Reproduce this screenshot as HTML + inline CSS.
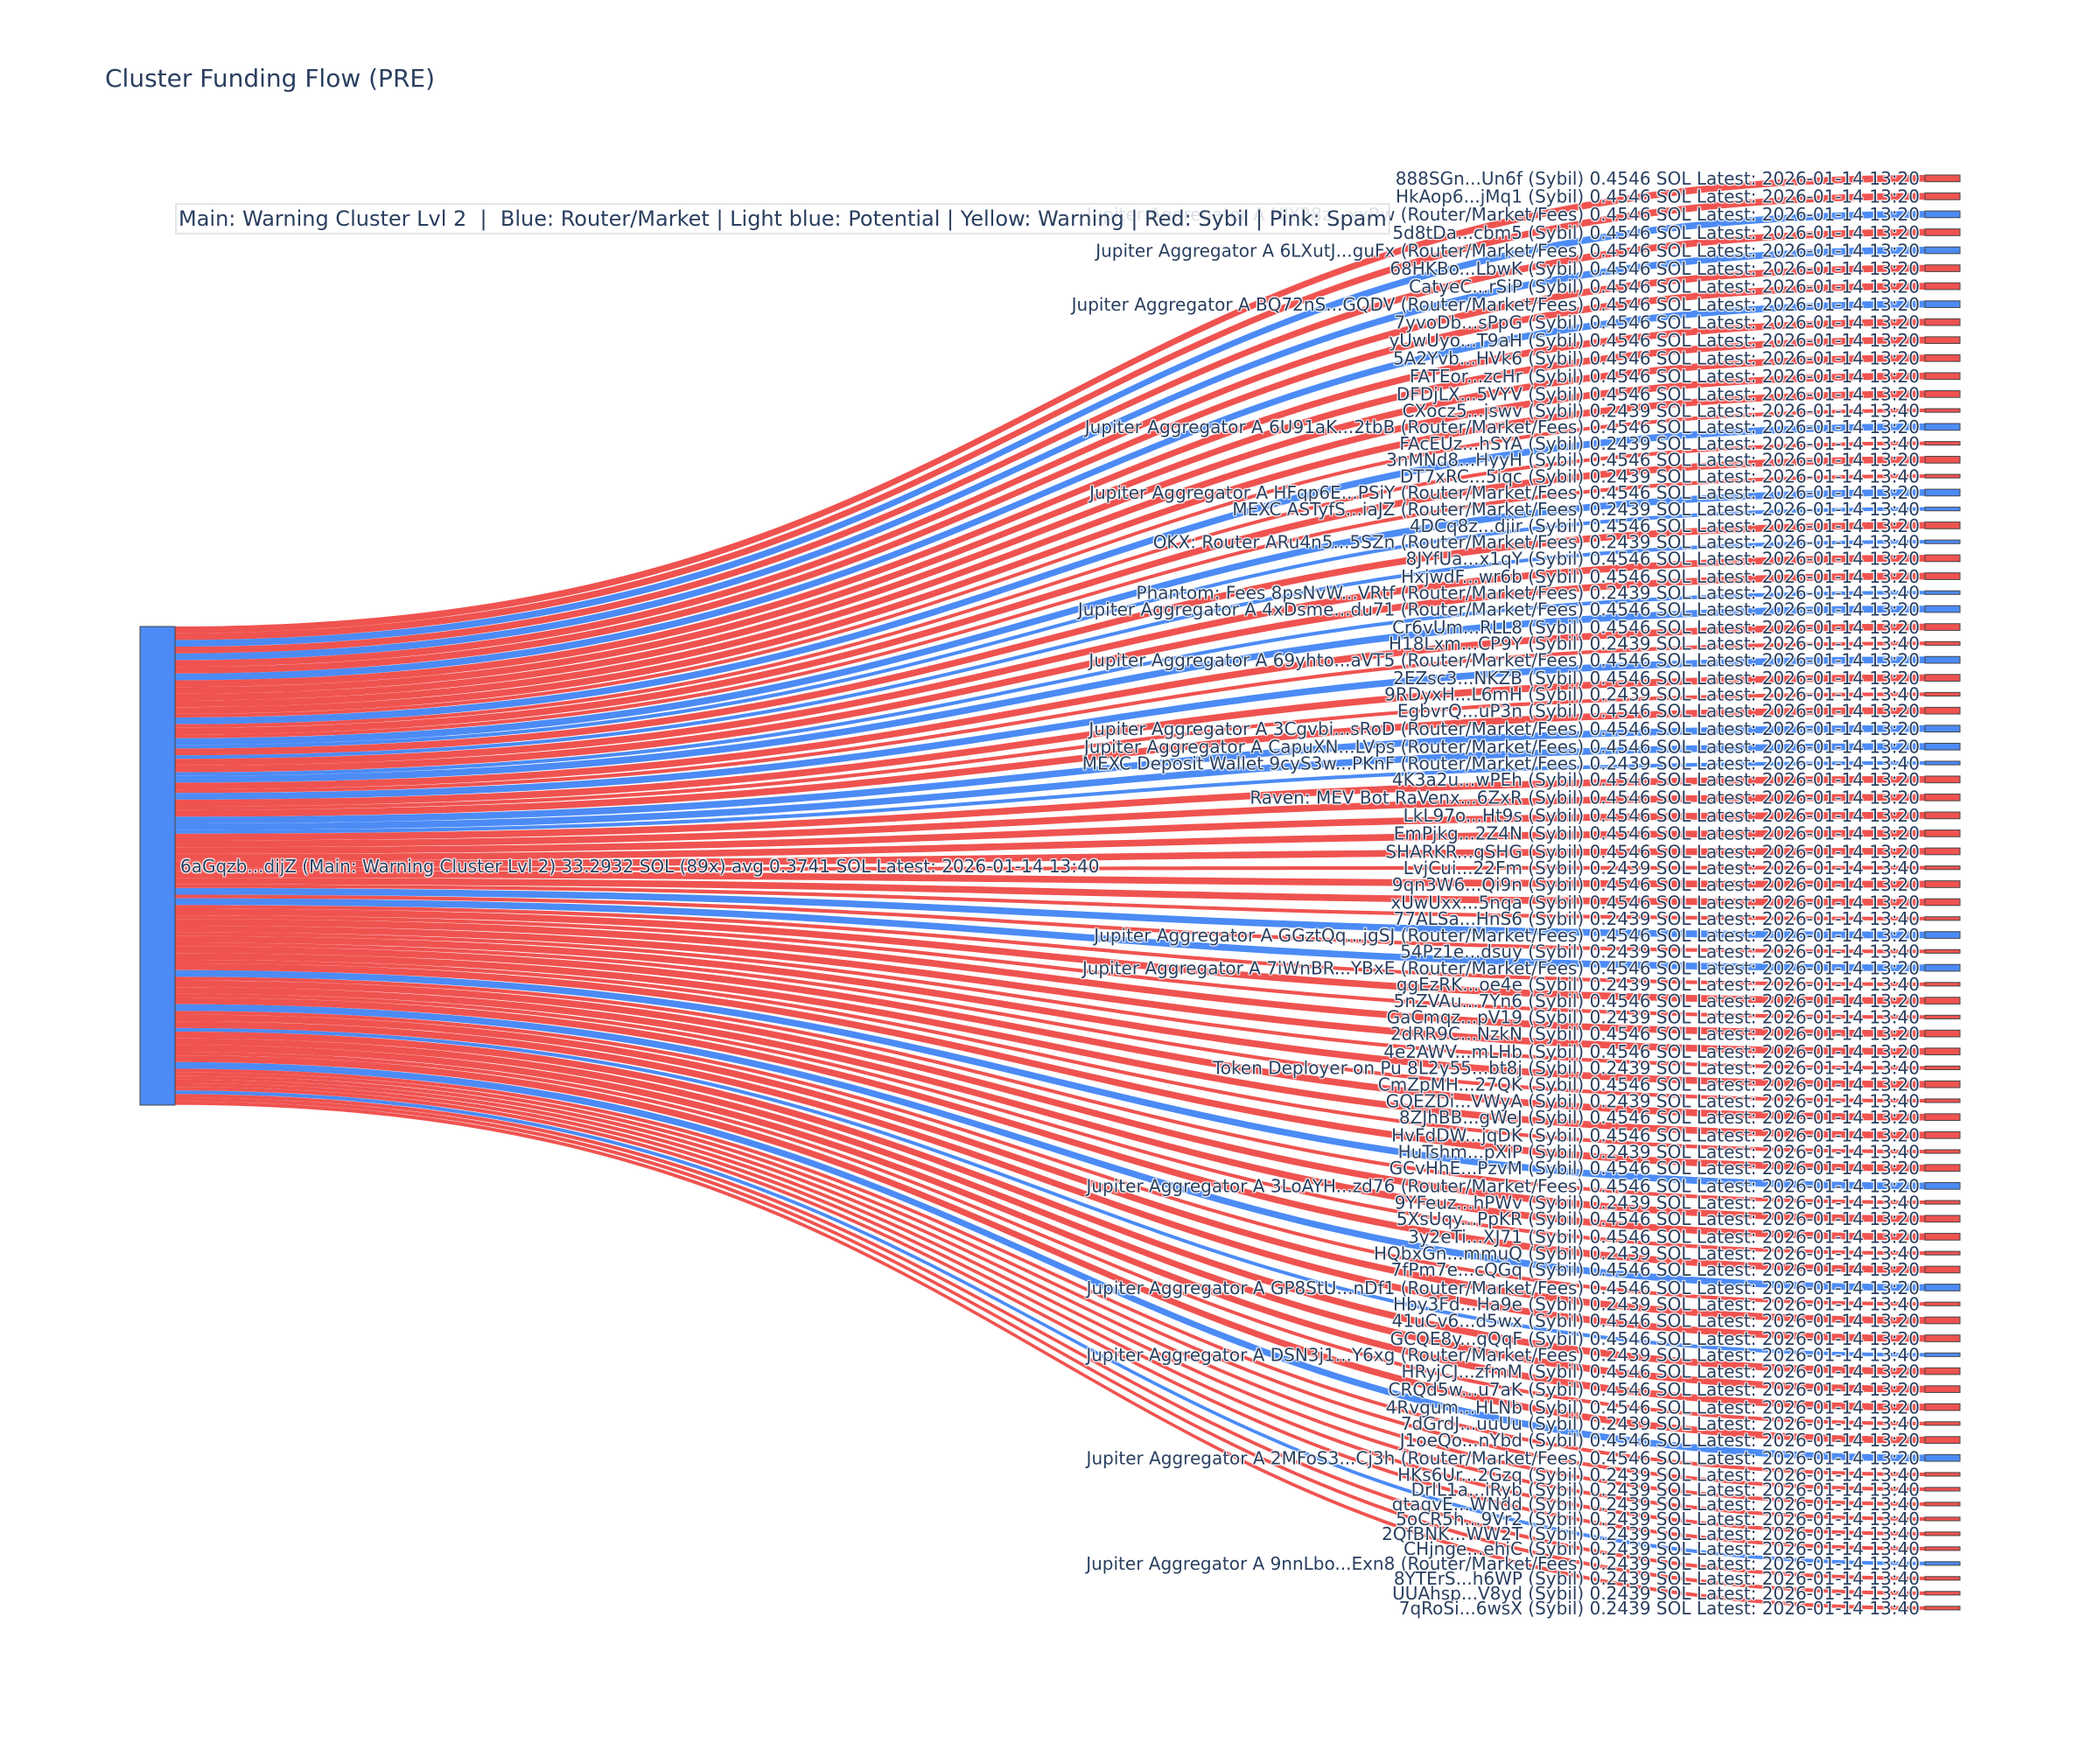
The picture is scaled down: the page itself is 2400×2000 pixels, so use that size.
<!DOCTYPE html>
<html><head><meta charset="utf-8">
<style>
html,body{margin:0;padding:0;background:#fff;}
svg{display:block;font-family:"DejaVu Sans","Liberation Sans",sans-serif;}
.lbl text{font-size:20px;fill:#2a3f5f;text-shadow:1px 1px 1px #fff,1px -1px 1px #fff,-1px 1px 1px #fff,-1px -1px 1px #fff;}
</style></head>
<body>
<svg id="s" xmlns="http://www.w3.org/2000/svg" width="2400" height="2000" viewBox="0 0 2400 2000">
<rect width="2400" height="2000" fill="#fff"/>
<g id="links"></g>
<g id="nodes"><rect x="160" y="716" width="40" height="547" fill="#4C8BF5" stroke="#444" stroke-width="1"/></g>
<g class="lbl" id="rl" text-anchor="end">
<text x="2194">888SGn...Un6f (Sybil) 0.4546 SOL Latest: 2026-01-14 13:20</text>
<text x="2194">HkAop6...jMq1 (Sybil) 0.4546 SOL Latest: 2026-01-14 13:20</text>
<text x="2194">Jupiter Aggregator A HJY28z...xxRw (Router/Market/Fees) 0.4546 SOL Latest: 2026-01-14 13:20</text>
<text x="2194">5d8tDa...cbm5 (Sybil) 0.4546 SOL Latest: 2026-01-14 13:20</text>
<text x="2194">Jupiter Aggregator A 6LXutJ...guFx (Router/Market/Fees) 0.4546 SOL Latest: 2026-01-14 13:20</text>
<text x="2194">68HKBo...LbwK (Sybil) 0.4546 SOL Latest: 2026-01-14 13:20</text>
<text x="2194">CatyeC...rSiP (Sybil) 0.4546 SOL Latest: 2026-01-14 13:20</text>
<text x="2194">Jupiter Aggregator A BQ72nS...GQDV (Router/Market/Fees) 0.4546 SOL Latest: 2026-01-14 13:20</text>
<text x="2194">7yvoDb...sPpG (Sybil) 0.4546 SOL Latest: 2026-01-14 13:20</text>
<text x="2194">yUwUyo...T9aH (Sybil) 0.4546 SOL Latest: 2026-01-14 13:20</text>
<text x="2194">5A2Yvb...HVk6 (Sybil) 0.4546 SOL Latest: 2026-01-14 13:20</text>
<text x="2194">FATEor...zcHr (Sybil) 0.4546 SOL Latest: 2026-01-14 13:20</text>
<text x="2194">DFDjLX...5VYV (Sybil) 0.4546 SOL Latest: 2026-01-14 13:20</text>
<text x="2194">CXocz5...jswv (Sybil) 0.2439 SOL Latest: 2026-01-14 13:40</text>
<text x="2194">Jupiter Aggregator A 6U91aK...2tbB (Router/Market/Fees) 0.4546 SOL Latest: 2026-01-14 13:20</text>
<text x="2194">FAcEUz...hSYA (Sybil) 0.2439 SOL Latest: 2026-01-14 13:40</text>
<text x="2194">3nMNd8...HyyH (Sybil) 0.4546 SOL Latest: 2026-01-14 13:20</text>
<text x="2194">DT7xRC...5iqc (Sybil) 0.2439 SOL Latest: 2026-01-14 13:40</text>
<text x="2194">Jupiter Aggregator A HFqp6E...PSiY (Router/Market/Fees) 0.4546 SOL Latest: 2026-01-14 13:20</text>
<text x="2194">MEXC ASTyfS...iaJZ (Router/Market/Fees) 0.2439 SOL Latest: 2026-01-14 13:40</text>
<text x="2194">4DCq8z...djir (Sybil) 0.4546 SOL Latest: 2026-01-14 13:20</text>
<text x="2194">OKX: Router ARu4n5...5SZn (Router/Market/Fees) 0.2439 SOL Latest: 2026-01-14 13:40</text>
<text x="2194">8JYfUa...x1qY (Sybil) 0.4546 SOL Latest: 2026-01-14 13:20</text>
<text x="2194">HxjwdF...wr6b (Sybil) 0.4546 SOL Latest: 2026-01-14 13:20</text>
<text x="2194">Phantom: Fees 8psNvW...VRtf (Router/Market/Fees) 0.2439 SOL Latest: 2026-01-14 13:40</text>
<text x="2194">Jupiter Aggregator A 4xDsme...du71 (Router/Market/Fees) 0.4546 SOL Latest: 2026-01-14 13:20</text>
<text x="2194">Cr6vUm...RLL8 (Sybil) 0.4546 SOL Latest: 2026-01-14 13:20</text>
<text x="2194">H18Lxm...CP9Y (Sybil) 0.2439 SOL Latest: 2026-01-14 13:40</text>
<text x="2194">Jupiter Aggregator A 69yhto...aVT5 (Router/Market/Fees) 0.4546 SOL Latest: 2026-01-14 13:20</text>
<text x="2194">2EZsc3...NKZB (Sybil) 0.4546 SOL Latest: 2026-01-14 13:20</text>
<text x="2194">9RDyxH...L6mH (Sybil) 0.2439 SOL Latest: 2026-01-14 13:40</text>
<text x="2194">EgbvrQ...uP3n (Sybil) 0.4546 SOL Latest: 2026-01-14 13:20</text>
<text x="2194">Jupiter Aggregator A 3Cgvbi...sRoD (Router/Market/Fees) 0.4546 SOL Latest: 2026-01-14 13:20</text>
<text x="2194">Jupiter Aggregator A CapuXN...LVps (Router/Market/Fees) 0.4546 SOL Latest: 2026-01-14 13:20</text>
<text x="2194">MEXC Deposit Wallet 9cyS3w...PKnF (Router/Market/Fees) 0.2439 SOL Latest: 2026-01-14 13:40</text>
<text x="2194">4K3a2u...wPEh (Sybil) 0.4546 SOL Latest: 2026-01-14 13:20</text>
<text x="2194">Raven: MEV Bot RaVenx...6ZxR (Sybil) 0.4546 SOL Latest: 2026-01-14 13:20</text>
<text x="2194">LkL97o...Ht9s (Sybil) 0.4546 SOL Latest: 2026-01-14 13:20</text>
<text x="2194">EmPjkg...2Z4N (Sybil) 0.4546 SOL Latest: 2026-01-14 13:20</text>
<text x="2194">SHARKR...gSHG (Sybil) 0.4546 SOL Latest: 2026-01-14 13:20</text>
<text x="2194">LvjCui...22Fm (Sybil) 0.2439 SOL Latest: 2026-01-14 13:40</text>
<text x="2194">9qn3W6...Qi9n (Sybil) 0.4546 SOL Latest: 2026-01-14 13:20</text>
<text x="2194">xUwUxx...5nqa (Sybil) 0.4546 SOL Latest: 2026-01-14 13:20</text>
<text x="2194">77ALSa...HnS6 (Sybil) 0.2439 SOL Latest: 2026-01-14 13:40</text>
<text x="2194">Jupiter Aggregator A GGztQq...jgSJ (Router/Market/Fees) 0.4546 SOL Latest: 2026-01-14 13:20</text>
<text x="2194">54Pz1e...dsuy (Sybil) 0.2439 SOL Latest: 2026-01-14 13:40</text>
<text x="2194">Jupiter Aggregator A 7iWnBR...YBxE (Router/Market/Fees) 0.4546 SOL Latest: 2026-01-14 13:20</text>
<text x="2194">ggEzRK...oe4e (Sybil) 0.2439 SOL Latest: 2026-01-14 13:40</text>
<text x="2194">5nZVAu...7Yn6 (Sybil) 0.4546 SOL Latest: 2026-01-14 13:20</text>
<text x="2194">GaCmqz...pV19 (Sybil) 0.2439 SOL Latest: 2026-01-14 13:40</text>
<text x="2194">2dRR9C...NzkN (Sybil) 0.4546 SOL Latest: 2026-01-14 13:20</text>
<text x="2194">4e2AWV...mLHb (Sybil) 0.4546 SOL Latest: 2026-01-14 13:20</text>
<text x="2194">Token Deployer on Pu 8L2y55...bt8j (Sybil) 0.2439 SOL Latest: 2026-01-14 13:40</text>
<text x="2194">CmZpMH...27QK (Sybil) 0.4546 SOL Latest: 2026-01-14 13:20</text>
<text x="2194">GQEZDi...VWyA (Sybil) 0.2439 SOL Latest: 2026-01-14 13:40</text>
<text x="2194">8ZJhBB...gWeJ (Sybil) 0.4546 SOL Latest: 2026-01-14 13:20</text>
<text x="2194">HvFdDW...jqDK (Sybil) 0.4546 SOL Latest: 2026-01-14 13:20</text>
<text x="2194">HuTshm...pXiP (Sybil) 0.2439 SOL Latest: 2026-01-14 13:40</text>
<text x="2194">GCvHhE...PzvM (Sybil) 0.4546 SOL Latest: 2026-01-14 13:20</text>
<text x="2194">Jupiter Aggregator A 3LoAYH...zd76 (Router/Market/Fees) 0.4546 SOL Latest: 2026-01-14 13:20</text>
<text x="2194">9YFeuz...hPWv (Sybil) 0.2439 SOL Latest: 2026-01-14 13:40</text>
<text x="2194">5XsUqy...PpKR (Sybil) 0.4546 SOL Latest: 2026-01-14 13:20</text>
<text x="2194">3y2eTi...XJ71 (Sybil) 0.4546 SOL Latest: 2026-01-14 13:20</text>
<text x="2194">HQbxGn...mmuQ (Sybil) 0.2439 SOL Latest: 2026-01-14 13:40</text>
<text x="2194">7fPm7e...cQGq (Sybil) 0.4546 SOL Latest: 2026-01-14 13:20</text>
<text x="2194">Jupiter Aggregator A GP8StU...nDf1 (Router/Market/Fees) 0.4546 SOL Latest: 2026-01-14 13:20</text>
<text x="2194">Hby3Fd...Ha9e (Sybil) 0.2439 SOL Latest: 2026-01-14 13:40</text>
<text x="2194">41uCv6...d5wx (Sybil) 0.4546 SOL Latest: 2026-01-14 13:20</text>
<text x="2194">GCQE8y...gQqF (Sybil) 0.4546 SOL Latest: 2026-01-14 13:20</text>
<text x="2194">Jupiter Aggregator A DSN3j1...Y6xg (Router/Market/Fees) 0.2439 SOL Latest: 2026-01-14 13:40</text>
<text x="2194">HRyjCJ...zfmM (Sybil) 0.4546 SOL Latest: 2026-01-14 13:20</text>
<text x="2194">CRQd5w...u7aK (Sybil) 0.4546 SOL Latest: 2026-01-14 13:20</text>
<text x="2194">4Rvgum...HLNb (Sybil) 0.4546 SOL Latest: 2026-01-14 13:20</text>
<text x="2194">7dGrdJ...uuUu (Sybil) 0.2439 SOL Latest: 2026-01-14 13:40</text>
<text x="2194">J1oeQo...nYbd (Sybil) 0.4546 SOL Latest: 2026-01-14 13:20</text>
<text x="2194">Jupiter Aggregator A 2MFoS3...Cj3h (Router/Market/Fees) 0.4546 SOL Latest: 2026-01-14 13:20</text>
<text x="2194">HKs6Ur...2Gzq (Sybil) 0.2439 SOL Latest: 2026-01-14 13:40</text>
<text x="2194">DrlL1a...iRyb (Sybil) 0.2439 SOL Latest: 2026-01-14 13:40</text>
<text x="2194">qtaqvE...WNdd (Sybil) 0.2439 SOL Latest: 2026-01-14 13:40</text>
<text x="2194">5oCR5h...9Vr2 (Sybil) 0.2439 SOL Latest: 2026-01-14 13:40</text>
<text x="2194">2QfBNK...WW2T (Sybil) 0.2439 SOL Latest: 2026-01-14 13:40</text>
<text x="2194">CHjnge...ehjC (Sybil) 0.2439 SOL Latest: 2026-01-14 13:40</text>
<text x="2194">Jupiter Aggregator A 9nnLbo...Exn8 (Router/Market/Fees) 0.2439 SOL Latest: 2026-01-14 13:40</text>
<text x="2194">8YTErS...h6WP (Sybil) 0.2439 SOL Latest: 2026-01-14 13:40</text>
<text x="2194">UUAhsp...V8yd (Sybil) 0.2439 SOL Latest: 2026-01-14 13:40</text>
<text x="2194">7qRoSi...6wsX (Sybil) 0.2439 SOL Latest: 2026-01-14 13:40</text>
</g>
<g class="lbl"><text x="206" y="997">6aGqzb...dijZ (Main: Warning Cluster Lvl 2) 33.2932 SOL (89x) avg 0.3741 SOL Latest: 2026-01-14 13:40</text></g>
<text x="120" y="99" font-size="28" fill="#2a3f5f">Cluster Funding Flow (PRE)</text>
<rect id="lb" x="201" y="233" width="1389" height="34" fill="#ffffff" fill-opacity="0.85" stroke="#dcdce3" stroke-width="1.5"/>
<text id="lt" x="204" y="258" font-size="24" fill="#2a3f5f" xml:space="preserve" style="white-space:pre">Main: Warning Cluster Lvl 2  |  Blue: Router/Market | Light blue: Potential | Yellow: Warning | Red: Sybil | Pink: Spam</text>
</svg>
<script>
(function(){
var NS="http://www.w3.org/2000/svg";
var K=16.9,PAD=12.86,yR=200,yL=716,X0=200,X1=2200,XM=1200;
var texts=document.querySelectorAll('#rl text');
var L=document.getElementById('links'),N=document.getElementById('nodes');
function f(v){return v.toFixed(2);}
for(var i=0;i<texts.length;i++){
  var t=texts[i].textContent;
  var v=t.indexOf('0.2439')>=0?0.2439:0.4546;
  var c=t.indexOf('(Sybil)')>=0?'#EF5350':'#4C8BF5';
  var h=v*K;
  var p=document.createElementNS(NS,'path');
  p.setAttribute('d','M'+X0+','+f(yL)+'C'+XM+','+f(yL)+' '+XM+','+f(yR)+' '+X1+','+f(yR)+
    'L'+X1+','+f(yR+h)+'C'+XM+','+f(yR+h)+' '+XM+','+f(yL+h)+' '+X0+','+f(yL+h)+'Z');
  p.setAttribute('fill',c);
  L.appendChild(p);
  var r=document.createElementNS(NS,'rect');
  r.setAttribute('x',X1);r.setAttribute('y',f(yR));
  r.setAttribute('width',40);r.setAttribute('height',f(h));
  r.setAttribute('fill',c);r.setAttribute('stroke','#444');r.setAttribute('stroke-width','1');
  N.appendChild(r);
  texts[i].setAttribute('y',f(yR+h/2+7.3));
  yR+=h+PAD; yL+=h;
}
try{
  var lt=document.getElementById('lt'),lb=document.getElementById('lb');
  var w=lt.getComputedTextLength();
  if(w>100){lb.setAttribute('width',(w+6).toFixed(1));}
}catch(e){}
})();
</script>
</body></html>
